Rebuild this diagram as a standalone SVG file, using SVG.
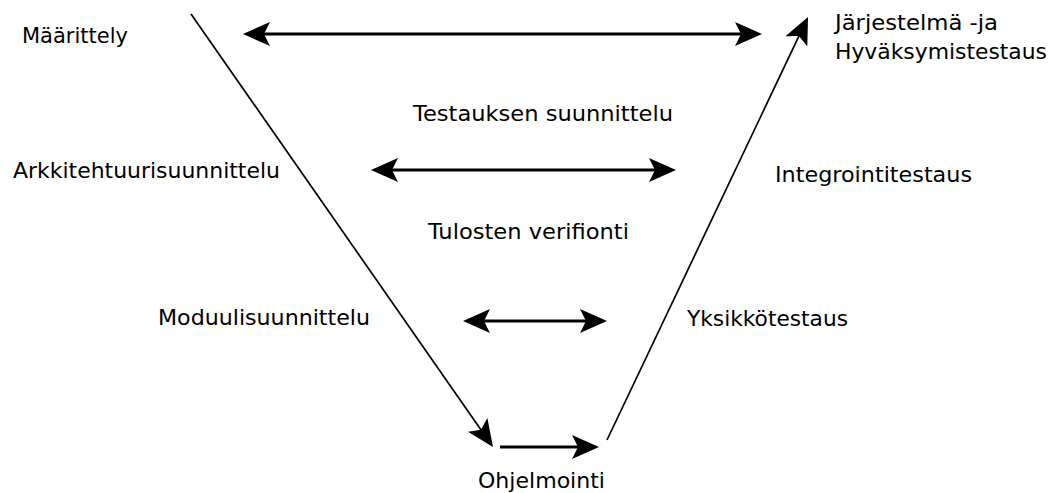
<svg xmlns="http://www.w3.org/2000/svg" width="1056" height="493" viewBox="0 0 1056 493">
  <style>
    .lbl { font-family: "DejaVu Sans", "Liberation Sans", sans-serif; font-size: 21px; fill: #000; }
    .h { stroke: #000; stroke-width: 3; fill: none; }
    .d { stroke: #000; stroke-width: 1.7; fill: none; }
  </style>
  <defs>
    <marker id="ah" viewBox="0 0 27 24" refX="19" refY="12" markerWidth="27" markerHeight="24" markerUnits="userSpaceOnUse" orient="auto-start-reverse">
      <path d="M0,0 L27,12 L0,24 L6,12 Z" fill="#000"/>
    </marker>
  </defs>
  <rect width="1056" height="493" fill="#fff"/>
  <g id="connectors">
    <line class="h" x1="251" y1="34" x2="754" y2="34" marker-start="url(#ah)" marker-end="url(#ah)"/>
    <line class="h" x1="379" y1="170" x2="668" y2="170" marker-start="url(#ah)" marker-end="url(#ah)"/>
    <line class="h" x1="471" y1="321" x2="599" y2="321" marker-start="url(#ah)" marker-end="url(#ah)"/>
    <line class="h" x1="500" y1="447" x2="591" y2="447" marker-end="url(#ah)"/>
    <line class="d" x1="191" y1="14" x2="488.4" y2="440.4" marker-end="url(#ah)"/>
    <line class="d" x1="607" y1="440" x2="804.6" y2="24.2" marker-end="url(#ah)"/>
  </g>
  <g id="n-maarittely"><text class="lbl" x="22" y="43" textLength="106" lengthAdjust="spacingAndGlyphs">Määrittely</text></g>
  <g id="n-jarjestelma">
    <text class="lbl" x="835" y="30" textLength="163" lengthAdjust="spacingAndGlyphs">Järjestelmä -ja</text>
    <text class="lbl" x="835" y="59" textLength="212" lengthAdjust="spacingAndGlyphs">Hyväksymistestaus</text>
  </g>
  <g id="n-testauksen"><text class="lbl" x="413" y="121" textLength="260" lengthAdjust="spacingAndGlyphs">Testauksen suunnittelu</text></g>
  <g id="n-arkkitehtuuri"><text class="lbl" x="13" y="178" textLength="267" lengthAdjust="spacingAndGlyphs">Arkkitehtuurisuunnittelu</text></g>
  <g id="n-integrointi"><text class="lbl" x="775" y="182" textLength="197" lengthAdjust="spacingAndGlyphs">Integrointitestaus</text></g>
  <g id="n-tulosten"><text class="lbl" x="428" y="239" textLength="201" lengthAdjust="spacingAndGlyphs">Tulosten verifionti</text></g>
  <g id="n-moduuli"><text class="lbl" x="158" y="325" textLength="212" lengthAdjust="spacingAndGlyphs">Moduulisuunnittelu</text></g>
  <g id="n-yksikko"><text class="lbl" x="687" y="326" textLength="161" lengthAdjust="spacingAndGlyphs">Yksikkötestaus</text></g>
  <g id="n-ohjelmointi"><text class="lbl" x="478" y="488" textLength="127" lengthAdjust="spacingAndGlyphs">Ohjelmointi</text></g>
</svg>
